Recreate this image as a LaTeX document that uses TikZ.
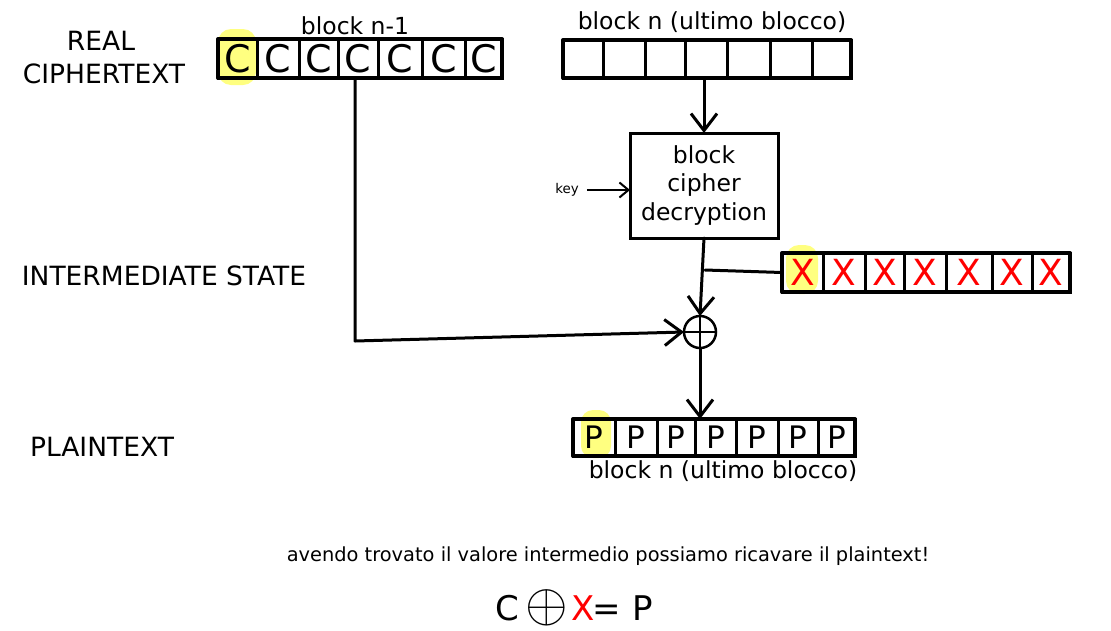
\documentclass[tikz,border=0pt]{standalone}
\usepackage{fontspec}
\setmainfont{DejaVu Sans}
\usetikzlibrary{arrows.meta}
\definecolor{hl}{RGB}{255,255,128}
\definecolor{xred}{RGB}{255,0,0}
\newcommand\fsz[2]{\fontsize{#1}{#2}\selectfont}
\begin{document}
\begin{tikzpicture}[x=1pt,y=-1pt,
  lab/.style={font=\fsz{26.5}{30}, inner sep=0pt, anchor=base},
  small/.style={font=\fsz{23.5}{28.5}, inner sep=0pt, anchor=base},
  cell/.style={draw, line width=3pt, inner sep=0pt, outer sep=0pt},
  rowframe/.style={draw, line width=4pt, line join=round},
  conn/.style={line width=3pt, line cap=round, line join=round},
  arr/.style={conn, -{Straight Barb[length=17pt,width=26pt,line width=3pt]}},
  arrsmall/.style={line width=2pt, -{Straight Barb[length=9pt,width=15pt,line width=2pt]}},
  hlbox/.style={fill=hl, rounded corners=13pt},
]
\fill[white] (0,0) rectangle (1111,630);
\useasboundingbox (0,0) rectangle (1111,630);

% highlights
\fill[hlbox] (218,29) rectangle (256,85);
\fill[hlbox] (786,245) rectangle (818,294);
\fill[hlbox, rounded corners=12pt] (581,410) rectangle (611,458);

% left labels
\node[lab] (lreal) at (101,50) {REAL};
\node[lab] (lciph) at (104,83) {CIPHERTEXT};
\node[lab] (linter) at (164,285) {INTERMEDIATE STATE};
\node[lab] (lplain) at (102,456) {PLAINTEXT};

% block n-1 (ciphertext)
\foreach \a/\b [count=\i] in {218/257,257/299,299/338,338/378,378/422,422/465,465/502}{
  \pgfmathsetmacro\w{\b-\a}\pgfmathsetmacro\m{(\a+\b)/2}
  \node[cell, minimum width=\w pt, minimum height=39pt, font=\fsz{38}{44}] (cp\i) at (\m,58.5) {C};
}
\draw[rowframe] (cp1.north west) rectangle (cp7.south east);
\node[small] (tbn1) at (355,34) {block n-1};

% block n (ciphertext)
\foreach \a/\b [count=\i] in {563/603,603/645,645/685,685/727,727/770,770/812,812/851}{
  \pgfmathsetmacro\w{\b-\a}\pgfmathsetmacro\m{(\a+\b)/2}
  \node[cell, minimum width=\w pt, minimum height=38pt] (bn\i) at (\m,59) {};
}
\draw[rowframe] (bn1.north west) rectangle (bn7.south east);
\node[small] (tbn) at (712,29) {block n (ultimo blocco)};

% decryption box
\node[draw, line width=3pt, minimum width=148pt, minimum height=105pt, inner sep=0pt, outer sep=0pt,
      align=center, font=\fsz{23.5}{28.5}] (dec) at (704,185.5) {block\\cipher\\decryption};
\node[inner sep=0pt, font=\fsz{13.4}{16}] (key) at (567,190) {key};

% intermediate X row
\foreach \a/\b [count=\i] in {782/823,823/865,865/904,904/946,946/992,992/1032,1032/1070}{
  \pgfmathsetmacro\w{\b-\a}\pgfmathsetmacro\m{(\a+\b)/2}
  \node[cell, minimum width=\w pt, minimum height=39pt, font=\fsz{36}{42}, text=xred] (xr\i) at (\m,272.5) {X};
}
\draw[rowframe] (xr1.north west) rectangle (xr7.south east);

% xor
\node[circle, draw, line width=2.5pt, minimum size=32pt, inner sep=0pt, outer sep=0pt] (xor) at (700,332) {};
\draw[line width=2pt] (xor.north) -- (xor.south) (xor.west) -- (xor.east);

% plaintext row
\foreach \a/\b [count=\i] in {573/615,615/657,657/695,695/736,736/778,778/818,818/855}{
  \pgfmathsetmacro\w{\b-\a}\pgfmathsetmacro\m{(\a+\b)/2}
  \node[cell, minimum width=\w pt, minimum height=37pt, font=\fsz{31}{36}] (pr\i) at (\m,437.5) {P};
}
\draw[rowframe] (pr1.north west) rectangle (pr7.south east);
\node[small] (tpn) at (723,478) {block n (ultimo blocco)};

% connectors
\draw[arr] (dec.north |- bn1.south) -- (dec.north);
\draw[arrsmall] ([xshift=8pt]key.east) -- (key.east -| dec.west);
\draw[arr] (dec.south) -- (xor.north);
\coordinate (tap) at (705,270);
\draw[conn] (tap) -- (xr1.west);
\coordinate (corner) at (355,341);
\draw[arr] (corner |- cp4.south) -- (corner) -- (xor.west);
\draw[arr] (xor.south) -- (xor.south |- pr1.north);

% bottom text
\node[inner sep=0pt, anchor=base, font=\fsz{19.4}{23}] (note) at (608,561) {avendo trovato il valore intermedio possiamo ricavare il plaintext!};
\node[inner sep=0pt, anchor=base, font=\fsz{34}{40}] (eqc) at (507,620) {C};
\node[inner sep=0pt, scale=2.2, font=\fsz{24}{28}] (eqo) at (547,608) {$\oplus$};
\node[inner sep=0pt, anchor=base, font=\fsz{34}{40}, text=xred] (eqx) at (583,620) {X};
\node[inner sep=0pt, anchor=base, font=\fsz{34}{40}] (eqe) at (607,620) {=};
\node[inner sep=0pt, anchor=base, font=\fsz{34}{40}] (eqp) at (643,620) {P};
\end{tikzpicture}
\end{document}
